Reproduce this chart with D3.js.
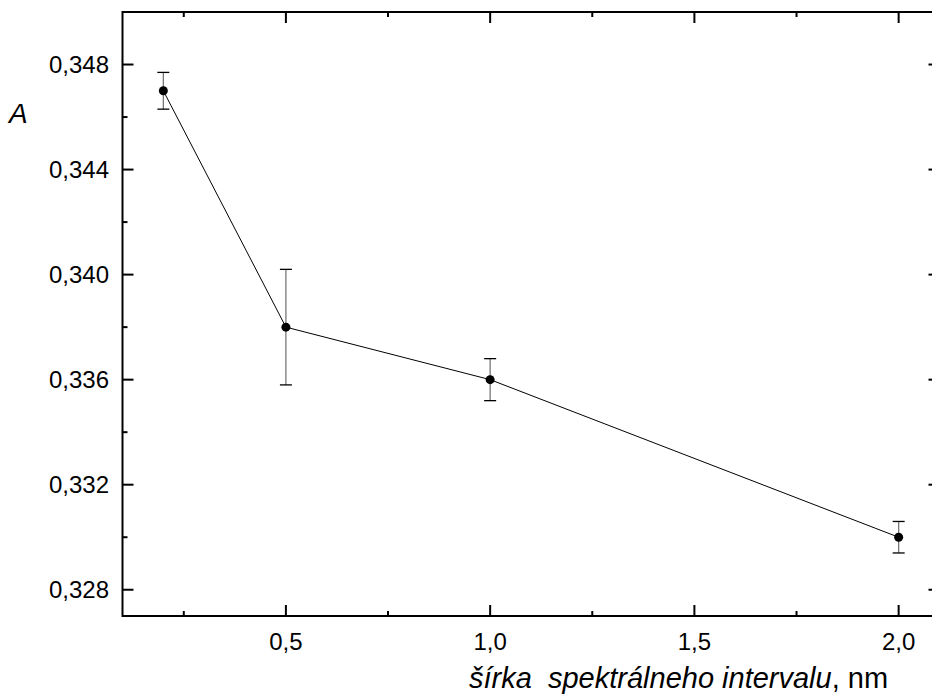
<!DOCTYPE html>
<meta charset="utf-8">
<style>
body { margin: 0; background: #fff; overflow: hidden; }
svg { display: block; overflow: hidden; }
text { font-family: Arial, "Liberation Sans", sans-serif; font-size: 24px; fill: #000; }
</style>
<svg width="932" height="695"></svg>
<script src="https://d3js.org/d3.v7.min.js"></script>
<script>
// spectral interval width (nm) vs absorbance A
var widths = [0.2, 0.5, 1.0, 2.0];
var absorb = [0.347, 0.338, 0.336, 0.330];
var errs = [0.0007, 0.0022, 0.0008, 0.0006];
var xTicks = [0.5, 1.0, 1.5, 2.0];
var yTicks = [0.328, 0.332, 0.336, 0.340, 0.344, 0.348];

var svg = d3.select("svg");
var mLeft = 122.5, mRight = 939.5, mTop = 12, mBottom = 616;

var x = d3.scaleLinear().domain([0.1, 2.1]).range([mLeft, mRight]);
var y = d3.scaleLinear().domain([0.327, 0.350]).range([mBottom, mTop]);

var fmt = function(d) { return d3.format(".3f")(d).replace(".", ","); };
var fmtX = function(d) { return d3.format(".1f")(d).replace(".", ","); };

// minor ticks
var xMinor = [0.25, 0.75, 1.25, 1.75];
var yMinor = [0.330, 0.334, 0.338, 0.342, 0.346];

var g = svg.append("g").attr("stroke", "#000").attr("stroke-width", 2);

// ticks on all four sides, pointing inward
function xticks(vals, len) {
  vals.forEach(function(v) {
    g.append("line").attr("x1", x(v)).attr("x2", x(v)).attr("y1", mBottom).attr("y2", mBottom - len);
    g.append("line").attr("x1", x(v)).attr("x2", x(v)).attr("y1", mTop).attr("y2", mTop + len);
  });
}
function yticks(vals, len) {
  vals.forEach(function(v) {
    g.append("line").attr("x1", mLeft).attr("x2", mLeft + len).attr("y1", y(v)).attr("y2", y(v));
    g.append("line").attr("x1", mRight).attr("x2", mRight - len).attr("y1", y(v)).attr("y2", y(v));
  });
}
xticks(xTicks, 11);
xticks(xMinor, 5);
yticks(yTicks, 11);
yticks(yMinor, 5);

// frame (right side falls outside the page)
g.append("path")
  .attr("d", "M" + mRight + "," + mTop + "H" + mLeft + "V" + mBottom + "H" + mRight)
  .attr("fill", "none");

// tick labels
svg.selectAll(".xl").data(xTicks).enter().append("text")
  .attr("x", function(d) { return x(d); }).attr("y", 650)
  .attr("text-anchor", "middle").text(fmtX);
svg.selectAll(".yl").data(yTicks).enter().append("text")
  .attr("x", 109).attr("y", function(d) { return y(d) + 8.5; })
  .attr("text-anchor", "end").text(fmt);

// axis titles
svg.append("text").attr("x", 9).attr("y", 123).style("font-style", "italic").style("font-size", "28px").text("A");
var t = svg.append("text").attr("x", 469).attr("y", 688).style("font-size", "29px");
t.append("tspan").style("font-style", "italic").text("šírka\u00a0 spektrálneho intervalu");
t.append("tspan").text(", nm");

// data
var pts = widths.map(function(w, i) { return { x: w, y: absorb[i], e: errs[i] }; });

var eb = svg.append("g").attr("stroke-width", 1.3);
pts.forEach(function(d) {
  eb.append("line").attr("x1", x(d.x)).attr("x2", x(d.x)).attr("y1", y(d.y + d.e)).attr("y2", y(d.y - d.e))
    .attr("stroke", "#777");
  [d.y + d.e, d.y - d.e].forEach(function(v) {
    eb.append("line").attr("x1", x(d.x) - 6).attr("x2", x(d.x) + 6).attr("y1", y(v)).attr("y2", y(v))
      .attr("stroke", "#000");
  });
});

svg.append("path").datum(pts)
  .attr("d", d3.line().x(function(d) { return x(d.x); }).y(function(d) { return y(d.y); }))
  .attr("fill", "none").attr("stroke", "#000").attr("stroke-width", 1);

svg.selectAll("circle").data(pts).enter().append("circle")
  .attr("cx", function(d) { return x(d.x); }).attr("cy", function(d) { return y(d.y); })
  .attr("r", 4.5).attr("fill", "#000");
</script>
